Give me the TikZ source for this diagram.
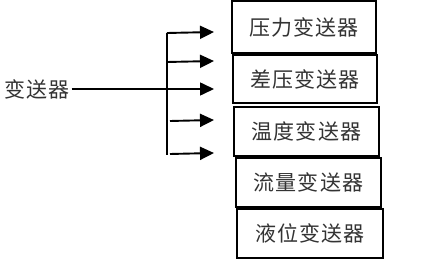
\documentclass[tikz,border=0pt]{standalone}
\usepackage{fontspec}
\newfontfamily\cjk[LetterSpace=5]{Noto Sans CJK SC}
\usetikzlibrary{arrows.meta}
\tikzset{
  box/.style={draw=black,line width=2.4pt,inner sep=0pt,font=\cjk\fontsize{21}{21}\selectfont,text=black!80},
  arr/.style={line width=1.9pt,-{Triangle[length=14pt,width=13pt]}},
  bar/.style={line width=2.3pt}
}
\begin{document}
\begin{tikzpicture}[x=1pt,y=-1pt]
\useasboundingbox (0,0) rectangle (440,259);
\node[box,minimum width=144pt,minimum height=52pt] (b1) at (304,27) {压力变送器};
\node[box,minimum width=144pt,minimum height=48pt] (b2) at (305,79) {差压变送器};
\node[box,minimum width=145pt,minimum height=49pt] (b3) at (306.5,131.5) {温度变送器};
\node[box,minimum width=145pt,minimum height=49pt] (b4) at (308.5,182.5) {流量变送器};
\node[box,minimum width=146pt,minimum height=49pt] (b5) at (310,233.5) {液位变送器};
\node[font=\cjk\fontsize{21}{21}\selectfont,text=black!80,inner sep=0pt,anchor=west] (src) at (4,89) {变送器};
\coordinate (top) at (167,33);
\coordinate (bot) at (167,155);
\coordinate (t1) at (214,32);
\coordinate (t2) at (214,61);
\coordinate (t3) at (214,89);
\coordinate (t4) at (214,120);
\coordinate (t5) at (214,153);
\coordinate (s2) at (167,62);
\coordinate (s4) at (170,121);
\coordinate (s5) at (170,154);
\draw[bar] (top) -- (bot);
\draw[arr] (top) -- (t1);
\draw[arr] (s2) -- (t2);
\draw[line width=1.6pt,-{Triangle[length=14pt,width=13pt]}] ([xshift=2pt]src.east) -- (t3);
\draw[arr] (s4) -- (t4);
\draw[arr] (s5) -- (t5);
\end{tikzpicture}
\end{document}
